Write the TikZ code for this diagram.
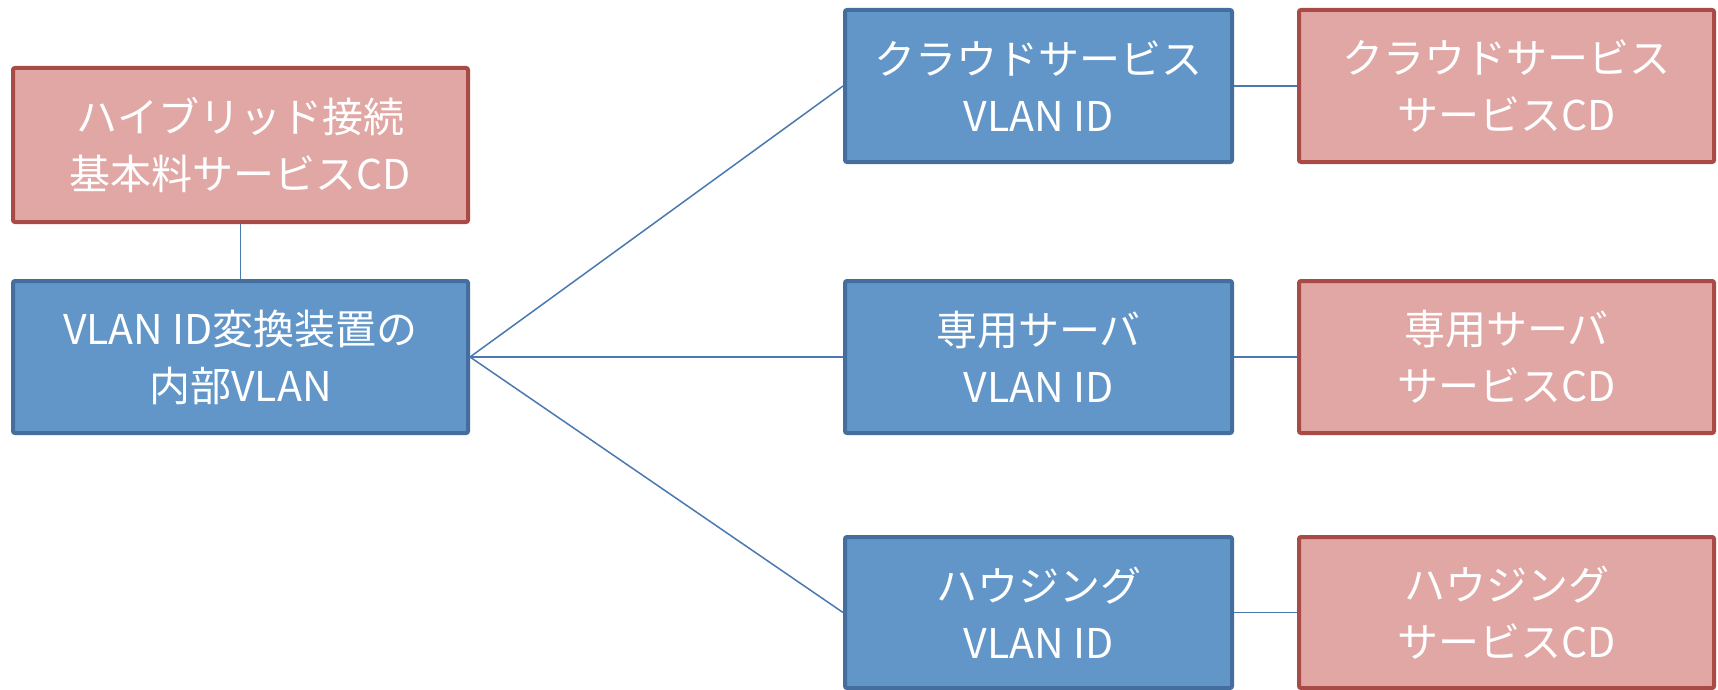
\documentclass[tikz,border=0pt]{standalone}
\usepackage{fontspec}
\setmainfont{Noto Sans CJK JP}
\definecolor{bluefill}{RGB}{98,150,200}
\definecolor{blueedge}{RGB}{68,110,158}
\definecolor{pinkfill}{RGB}{225,167,165}
\definecolor{pinkedge}{RGB}{168,74,70}
\definecolor{linkcol}{RGB}{74,120,176}
\tikzset{
  boxbase/.style={rectangle, rounded corners=2pt, line width=4pt, text=white,
    align=center, inner sep=0pt,
    font=\fontsize{41pt}{57pt}\selectfont},
  bluebox/.style={boxbase, draw=blueedge, fill=bluefill},
  pinkbox/.style={boxbase, draw=pinkedge, fill=pinkfill},
  link/.style={draw=linkcol, line width=1.5pt},
}
\begin{document}
\begin{tikzpicture}[x=1pt, y=-1pt]
\useasboundingbox (0,0) rectangle (1718,690);
\fill[white] (0,0) rectangle (1718,690);

% left column
\node[pinkbox, minimum width=455pt, minimum height=154pt] (base) at (240.5,145)
  {ハイブリッド接続\\基本料サービスCD};
\node[bluebox, minimum width=455pt, minimum height=152pt] (inner) at (240.5,357)
  {VLAN ID変換装置の\\内部VLAN};

% VLAN ID column
\node[bluebox, minimum width=387pt, minimum height=152pt] (cloud) at (1038.5,86)
  {クラウドサービス\\VLAN ID};
\node[bluebox, minimum width=387pt, minimum height=152pt] (server) at (1038.5,357)
  {専用サーバ\\VLAN ID};
\node[bluebox, minimum width=387pt, minimum height=151pt] (housing) at (1038.5,612.5)
  {ハウジング\\VLAN ID};

% service code column
\node[pinkbox, minimum width=415pt, minimum height=152pt] (cloudcd) at (1506.5,86)
  {クラウドサービス\\サービスCD};
\node[pinkbox, minimum width=415pt, minimum height=152pt] (servercd) at (1506.5,357)
  {専用サーバ\\サービスCD};
\node[pinkbox, minimum width=415pt, minimum height=151pt] (housingcd) at (1506.5,612.5)
  {ハウジング\\サービスCD};

% connectors
\draw[link] (base.south) -- (inner.north);
\draw[link] (inner.east) -- (cloud.west);
\draw[link] (inner.east) -- (server.west);
\draw[link] (inner.east) -- (housing.west);
\draw[link] (cloud.east) -- (cloudcd.west);
\draw[link] (server.east) -- (servercd.west);
\draw[link] (housing.east) -- (housingcd.west);
\end{tikzpicture}
\end{document}
